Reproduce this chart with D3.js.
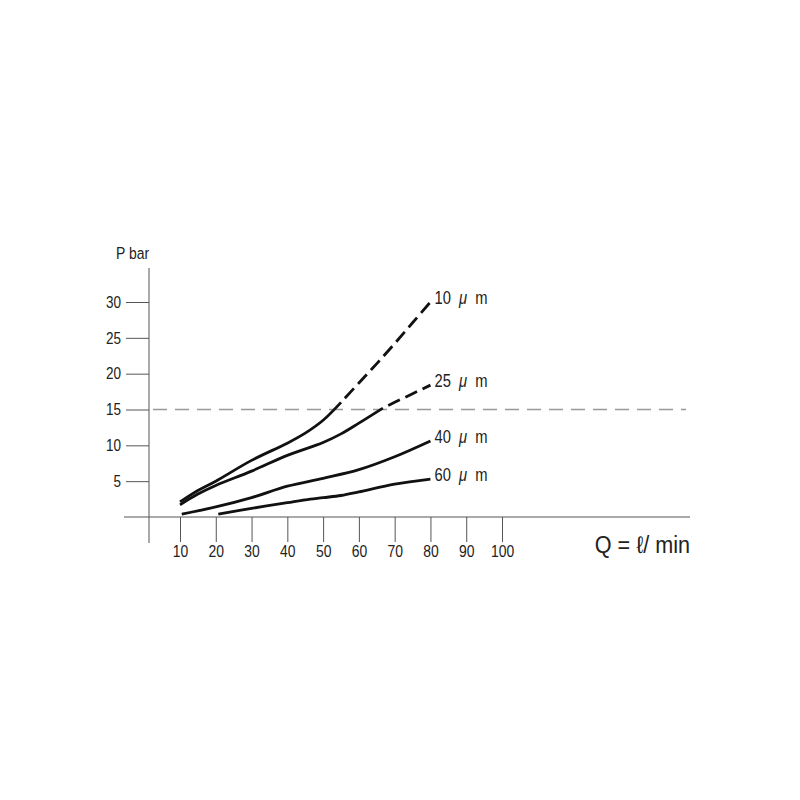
<!DOCTYPE html>
<html>
<head>
<meta charset="utf-8">
<script src="https://cdnjs.cloudflare.com/ajax/libs/d3/7.8.5/d3.min.js"></script>
<style>
  body { margin: 0; background: #fff; }
  text { font-family: "Liberation Sans", Arial, sans-serif; fill: #222; transform-box: fill-box; }
  .narrow-r { transform: scaleX(0.82); transform-origin: right center; }
  .narrow-c { transform: scaleX(0.82); transform-origin: center center; }
  .narrow-l { transform: scaleX(0.82); transform-origin: left center; }
</style>
</head>
<body>
<script>
// filter ratings (micron) and their curves
const ratings = ['10', '25', '40', '60']

const flow10 = [10, 15, 20, 30, 40, 45, 50, 55, 60, 65, 70, 75, 80]
const bar10 = [2.1, 3.7, 5.0, 7.9, 10.3, 11.7, 13.5, 16.0, 18.7, 21.4, 24.2, 27.1, 30.0]

const flow25 = [10, 15, 20, 30, 40, 50, 55, 60, 66.7, 70, 75, 80]
const bar25 = [1.7, 3.2, 4.4, 6.4, 8.6, 10.4, 11.6, 13.1, 15.2, 16.0, 17.2, 18.4]

const flow40 = [10.5, 20, 30, 40, 50, 60, 70, 80]
const bar40 = [0.4, 1.4, 2.7, 4.3, 5.4, 6.6, 8.4, 10.6]

const flow60 = [20.7, 30, 40, 45, 50, 55, 60, 70, 80]
const bar60 = [0.4, 1.2, 2.0, 2.4, 2.7, 3.0, 3.5, 4.6, 5.3]

// flow from which each curve is drawn dashed (null = solid all the way)
const dashFrom = [55, 66.7, null, null]

const xTicks = [10, 20, 30, 40, 50, 60, 70, 80, 90, 100]
const yTicks = [5, 10, 15, 20, 25, 30]
const limitBar = 15

const flows = [flow10, flow25, flow40, flow60]
const bars = [bar10, bar25, bar40, bar60]

const width = 800
const height = 800
const axisX = 149
const baseY = 517
const font = '"Liberation Sans", Arial, sans-serif'

const x = d3.scaleLinear().domain([10, 100]).range([180, 502])
const y = d3.scaleLinear().domain([0, 30]).range([baseY, 302])

let svg = d3
  .select('body')
  .append('svg')
  .attr('width', width)
  .attr('height', height)
  .style('background-color', '#fff')

// y axis ticks
let yAxis = svg
  .append('g')
  .attr('transform', `translate(${axisX},0)`)
  .call(d3.axisLeft(y).tickValues(yTicks).tickSize(23).tickPadding(5))

yAxis.select('.domain').remove()
yAxis.selectAll('line').attr('stroke', '#555')
yAxis.selectAll('text')
  .attr('class', 'narrow-r')
  .style('font-size', '16.5px')
  .style('font-family', font)
  .attr('fill', '#222')

// x axis ticks
let xAxis = svg
  .append('g')
  .attr('transform', `translate(0,${baseY})`)
  .call(d3.axisBottom(x).tickValues(xTicks).tickSize(25).tickPadding(3))

xAxis.select('.domain').remove()
xAxis.selectAll('line').attr('stroke', '#555')
xAxis.selectAll('text')
  .attr('class', 'narrow-c')
  .style('font-size', '17px')
  .style('font-family', font)
  .attr('fill', '#222')

// axis lines
svg.append('line')
  .attr('x1', axisX).attr('x2', axisX)
  .attr('y1', 268).attr('y2', 543)
  .attr('stroke', '#555')
  .attr('stroke-width', 1)

svg.append('line')
  .attr('x1', 124).attr('x2', 690)
  .attr('y1', baseY).attr('y2', baseY)
  .attr('stroke', '#555')
  .attr('stroke-width', 1)

// 15 bar limit
svg.append('line')
  .attr('x1', 153).attr('x2', 686)
  .attr('y1', y(limitBar)).attr('y2', y(limitBar))
  .attr('stroke', '#999')
  .attr('stroke-width', 1.3)
  .attr('stroke-dasharray', '14,8')

// titles
svg.append('text')
  .attr('class', 'narrow-l')
  .attr('x', 116)
  .attr('y', 259)
  .style('font-size', '17px')
  .text('P bar')

svg.append('text')
  .attr('class', 'narrow-r')
  .attr('x', 690)
  .attr('y', 553)
  .attr('text-anchor', 'end')
  .style('font-size', '24px')
  .style('transform', 'scaleX(0.9)')
  .text('Q = ℓ/ min')

const line = d3.line()
  .x(d => x(d[0]))
  .y(d => y(d[1]))
  .curve(d3.curveCatmullRom.alpha(0.5))

ratings.forEach((r, i) => {
  const pts = flows[i].map((f, j) => [f, bars[i][j]])
  const cut = dashFrom[i]
  const solid = cut === null ? pts : pts.filter(p => p[0] <= cut)
  const dashed = cut === null ? [] : pts.filter(p => p[0] >= cut)

  svg.append('path')
    .datum(solid)
    .attr('d', line)
    .attr('fill', 'none')
    .attr('stroke', '#111')
    .attr('stroke-width', 2.8)

  if (dashed.length > 1) {
    svg.append('path')
      .datum(dashed)
      .attr('d', line)
      .attr('fill', 'none')
      .attr('stroke', '#111')
      .attr('stroke-width', 2.8)
      .attr('stroke-dasharray', '13,6')
      .attr('stroke-dashoffset', 13)
  }

  const last = pts[pts.length - 1]
  let label = svg.append('text')
    .attr('class', 'narrow-l')
    .attr('x', x(last[0]) + 4)
    .attr('y', y(last[1]) + 2)
    .style('font-size', '18px')
    .style('word-spacing', '5px')
  label.append('tspan').text(r + ' ')
  label.append('tspan').style('font-style', 'italic').text('μ')
  label.append('tspan').text(' m')
})
</script>
</body>
</html>
